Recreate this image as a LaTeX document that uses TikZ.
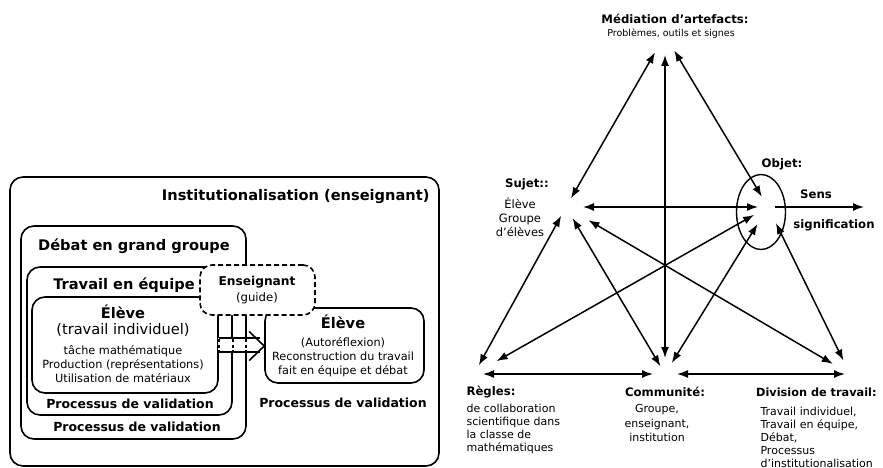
\documentclass[tikz,border=0pt]{standalone}
\usepackage{fontspec}
\setmainfont{DejaVu Sans}
\usepackage{tikz}
\usetikzlibrary{arrows.meta,shapes.geometric,positioning,calc}
\tikzset{
	x=1pt, y=-1pt,
	>={Latex[length=11pt,width=8pt]},
	box/.style={draw, line width=1.6pt, rounded corners=13pt, inner sep=0pt},
	guidebox/.style={box, fill=white, dash pattern=on 5pt off 3pt, rounded corners=12pt},
	head/.style={font=\bfseries\fontsize{14.6}{17}\selectfont},
	valid/.style={font=\bfseries\fontsize{12.5}{15}\selectfont},
	small/.style={font=\fontsize{11.3}{14.3}\selectfont, align=center},
	lab/.style={font=\bfseries\fontsize{11.7}{14}\selectfont},
	txt/.style={font=\fontsize{11}{12.8}\selectfont},
	dbl/.style={<->, line width=1.5pt},
}

\begin{document}
\begin{tikzpicture}
    \useasboundingbox (0,0) rectangle (883,468);
    % left: the nested phases
    \node[box, minimum width=429, minimum height=289] (inst) at (224.5,321.5) {};
    \node[box, minimum width=225, minimum height=213] (debat) at (133.5,332.5) {};
    \node[box, minimum width=205, minimum height=148] (equipe) at (129.5,341) {};
    \node[box, minimum width=186, minimum height=96] (eleveA) at (125,345) {};
    \node[box, minimum width=159, minimum height=75] (eleveB) at (344.5,345.5) {};
    \node[guidebox, minimum width=115, minimum height=50] (ens) at (257.5,290) {};

    \node[head, anchor=east] (tinst) at (433,197) {Institutionalisation (enseignant)};
    \node[head] (tdebat) at (134,246) {Débat en grand groupe};
    \node[head] (tequipe) at (124,285) {Travail en équipe};
    \node[font=\bfseries\fontsize{12.2}{15}\selectfont] (tens) at (257,282) {Enseignant};
    \node[font=\fontsize{11.7}{14}\selectfont] (tguide) at (257,298) {(guide)};

    \node[head] (tA) at (123,312) {Élève};
    \node[font=\fontsize{14.6}{17}\selectfont] (tAsub) at (123,330) {(travail individuel)};
    \node[small] (tAtxt) at (123,364) {tâche mathématique\\Production (représentations)\\Utilisation de matériaux};
    \node[head] (tB) at (343,322) {Élève};
    \node[small] (tBtxt) at (343,357) {(Autoréflexion)\\Reconstruction du travail\\fait en équipe et débat};

    \node[valid] (vA) at (130,404) {Processus de validation};
    \node[valid] (vD) at (137,427) {Processus de validation};
    \node[valid] (vB) at (343,403) {Processus de validation};

    % hollow arrow across the box edges
    \fill[white] ($(eleveA.east)+(-1,-7)$) rectangle ($(eleveA.east)+(38,7)$);
    \draw[line width=1.6pt] ($(eleveA.east)+(0,-7)$) -- ++(41,0)
        ($(eleveA.east)+(0,7)$) -- ++(41,0);
    \draw[line width=1.6pt] ($(eleveB.west)+(-15,-14)$) -- ($(eleveB.west)+(0,0.5)$)
        -- ($(eleveB.west)+(-15,15)$);
    \foreach \dx in {0,14,27}
        \draw[line width=1.6pt, dash pattern=on 3pt off 2.5pt]
            ($(eleveA.east)+(\dx,-6)$) -- ($(eleveA.east)+(\dx,7)$);

    % right: activity triangle
    \coordinate (med) at (665,35);
    \coordinate (suj) at (566,207);
    \coordinate (obj) at (768,207);
    \coordinate (reg) at (474,374);
    \coordinate (com) at (665,374);
    \coordinate (div) at (850,374);
    \coordinate (sens) at (864,207);
    \node[draw, ellipse, line width=1.4pt, minimum width=49, minimum height=75] (ring) at (761,212) {};

    \draw[dbl, shorten <=10pt, shorten >=20pt] (suj) -- (med);
    \draw[dbl, shorten <=12pt, shorten >=18pt] (obj) -- (med);
    \draw[dbl, shorten <=16pt, shorten >=20pt] (com) -- (med);
    \draw[dbl, shorten <=17pt, shorten >=10pt] (suj) -- (obj);
    \draw[->, line width=1.5pt, shorten <=7pt] (obj) -- (sens);
    \draw[dbl, shorten <=9pt, shorten >=12pt] (reg) -- (com);
    \draw[dbl, shorten <=12pt, shorten >=5pt] (com) -- (div);
    \draw[dbl, shorten <=10pt, shorten >=10pt] (reg) -- (suj);
    \draw[dbl, shorten <=13pt, shorten >=9pt] (suj) -- (com);
    \draw[dbl, shorten <=26pt, shorten >=20pt] (suj) -- (div);
    \draw[dbl, shorten <=26pt, shorten >=16pt] (reg) -- (obj);
    \draw[dbl, shorten <=13pt, shorten >=20pt] (com) -- (obj);
    \draw[dbl, shorten <=15pt, shorten >=18pt] (div) -- (obj);

    \node[lab] (lmed) at (675,19) {Médiation d’artefacts:};
    \node[font=\fontsize{9.5}{11}\selectfont] (lmedtxt) at (671,34) {Problèmes, outils et signes};
    \node[lab] (lsuj) at (527,184) {Sujet::};
    \node[txt, font=\fontsize{11.5}{14.2}\selectfont, align=center] (lsujtxt) at (520,217) {Élève\\Groupe\\d’élèves};
    \node[lab] (lobj) at (782,164) {Objet:};
    \node[lab] (lsens) at (816,194) {Sens};
    \node[lab] (lsig) at (834,225) {signification};
    \node[lab, anchor=west] (lreg) at (463,392) {Règles:};
    \node[txt, align=left, anchor=north west] (lregtxt) at (463,401) {de collaboration\\scientifique dans\\la classe de\\mathématiques};
    \node[lab] (lcom) at (665,392) {Communité:};
    \node[txt, font=\fontsize{11}{14.5}\selectfont, align=center, anchor=north] (lcomtxt) at (657,401) {Groupe,\\enseignant,\\institution};
    \node[lab, font=\bfseries\fontsize{11.3}{14}\selectfont, anchor=west, inner xsep=1pt] (ldiv) at (755,392) {Division de travail:};
    \node[txt, align=left, anchor=north west] (ldivtxt) at (757,404) {Travail individuel,\\Travail en équipe,\\Débat,\\Processus\\d’institutionalisation};
\end{tikzpicture}
\end{document}
